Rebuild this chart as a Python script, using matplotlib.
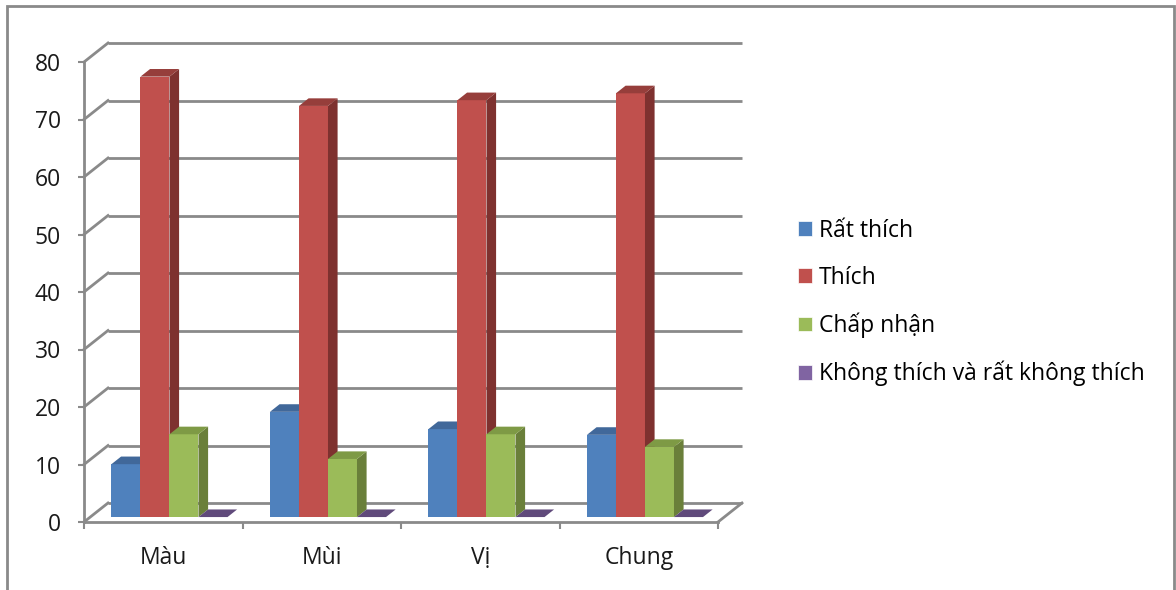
import matplotlib.pyplot as plt
from matplotlib.patches import Polygon, Rectangle, Patch

plt.rcParams['font.family'] = ['Open Sans', 'DejaVu Sans']

categories = ['Màu', 'Mùi', 'Vị', 'Chung']
series = ['Rất thích', 'Thích', 'Chấp nhận', 'Không thích và rất không thích']
rat_thich = [9.2, 18.3, 15.3, 14.3]
thich = [76.6, 71.5, 72.5, 73.7]
chap_nhan = [14.4, 10.1, 14.4, 12.2]
khong_thich = [0, 0, 0, 0]
y_ticks = [0, 10, 20, 30, 40, 50, 60, 70, 80]

# front, side, top shades for each series
shades = [
    ('#4F81BD', '#385D8A', '#41689A'),
    ('#C0504D', '#7E312F', '#963E3B'),
    ('#9BBB59', '#6A7F3A', '#7E9A45'),
    ('#8064A2', '#5A4478', '#604A7B'),
]
GRID = '#8a8a8a'
FS = 16.5

W, H = 1176, 590
fig = plt.figure(figsize=(W / 100, H / 100), dpi=100)
ax = fig.add_axes([84 / W, 1 - 522 / H, (718 - 84) / W, (522 - 62) / H])
ax.set_xlim(-0.5, 3.5)
ax.set_ylim(0, 80)

# oblique depth of the plot box, in data units
DX = 24 / 158.5
DY = 19 / 5.75

# back wall gridlines plus the left wall diagonals
for v in y_ticks:
    ax.plot([-0.5 + DX, 3.5 + DX], [v + DY, v + DY], color=GRID, lw=2,
            clip_on=False, zorder=1, solid_capstyle='butt')
    ax.plot([-0.5, -0.5 + DX], [v, v + DY], color=GRID, lw=2,
            clip_on=False, zorder=1)
# right edge of the floor
ax.plot([3.5, 3.5 + DX], [0, DY], color=GRID, lw=2, clip_on=False, zorder=1)

bar_w = 0.183
z0, z1 = 0.26, 0.66


def draw_bar(x0, h, cols):
    front_c, side_c, top_c = cols
    x = x0 + z0 * DX
    y0 = z0 * DY
    y1 = y0 + h
    bx, by = (z1 - z0) * DX, (z1 - z0) * DY
    if h > 0:
        ax.add_patch(Rectangle((x, y0), bar_w, h, fc=front_c, lw=0,
                               clip_on=False, zorder=3))
        ax.add_patch(Polygon([(x + bar_w, y0), (x + bar_w + bx, y0 + by),
                              (x + bar_w + bx, y1 + by), (x + bar_w, y1)],
                             fc=side_c, lw=0, clip_on=False, zorder=3))
    ax.add_patch(Polygon([(x, y1), (x + bx, y1 + by),
                          (x + bar_w + bx, y1 + by), (x + bar_w, y1)],
                         fc=top_c, lw=0, clip_on=False, zorder=3))


all_series = [rat_thich, thich, chap_nhan, khong_thich]
for i in range(len(categories)):
    for j, vals in enumerate(all_series):
        draw_bar(i - 2 * bar_w + j * bar_w, vals[i], shades[j])

# axes
for s in ['top', 'right']:
    ax.spines[s].set_visible(False)
for s in ['left', 'bottom']:
    ax.spines[s].set_color(GRID)
    ax.spines[s].set_linewidth(2)
ax.set_yticks(y_ticks)
ax.tick_params(axis='y', direction='out', length=4.5, width=1.5, color=GRID,
               pad=12, labelsize=FS, labelcolor='#1a1a1a')
ax.set_xticks([-0.5, 0.5, 1.5, 2.5, 3.5])
ax.set_xticklabels([])
ax.set_xticks(range(len(categories)), minor=True)
ax.set_xticklabels(categories, minor=True)
ax.tick_params(axis='x', which='major', direction='out', length=5, width=1.5,
               color=GRID)
ax.tick_params(axis='x', which='minor', length=0, pad=17, labelsize=FS,
               labelcolor='#1a1a1a')
ax.patch.set_alpha(0)

handles = [Patch(facecolor=c[0], edgecolor='white', lw=0.5) for c in shades]
fig.legend(handles, series, loc='center left',
           bbox_to_anchor=(798 / W, 1 - 302.5 / H), frameon=False,
           borderpad=0, borderaxespad=0, handlelength=0.6, handleheight=0.6,
           handletextpad=0.3, labelspacing=1.0, fontsize=FS)

# chart border
fig.add_artist(Rectangle((7 / W, -0.02), (1174 - 7) / W, 1 - 6 / H + 0.02,
                         transform=fig.transFigure, fill=False, ec=GRID, lw=2))

fig.savefig('out.png', dpi=100)
